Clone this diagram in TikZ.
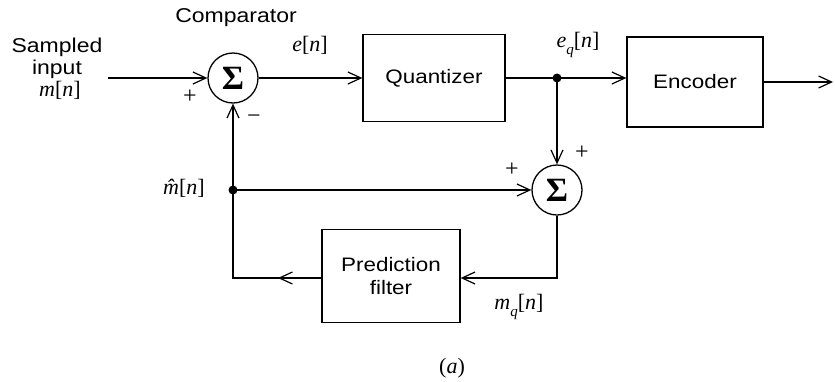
\documentclass[tikz,border=0pt]{standalone}
\usepackage{fontspec}
\setmainfont[FakeStretch=1.15]{Liberation Sans}
\newfontfamily\mfont{Liberation Serif}
\newcommand{\vi}[1]{{\mfont\itshape #1}}
\newcommand{\vb}[1]{{\mfont #1}}
\newcommand{\sub}[1]{\raisebox{-0.35em}{\fontsize{15}{15}\selectfont\mfont\itshape #1}}
\usetikzlibrary{arrows.meta,calc}
\begin{document}
\begin{tikzpicture}[x=1pt,y=-1pt,
  line width=1.3pt,
  >={Straight Barb[length=13pt,width=12pt,line width=1.2pt]},
  sumnode/.style={draw,circle,minimum size=50pt,inner sep=0pt,font=\fontsize{34}{34}\selectfont\mfont\bfseries},
  blk/.style={draw,rectangle,inner sep=2pt,font=\fontsize{19.5}{23}\selectfont,align=center},
  lbl/.style={font=\fontsize{20}{22}\selectfont,align=center},
  mlbl/.style={font=\fontsize{22}{24}\selectfont,inner sep=1pt},
  sgn/.style={font=\fontsize{24}{24}\selectfont\mfont,inner sep=0pt},
  dot/.style={circle,fill,inner sep=0pt,minimum size=9pt}]
\useasboundingbox (0,0) rectangle (835,381);
% nodes
\node[sumnode] (s1) at (233,78) {Σ};
\node[blk,minimum width=142pt,minimum height=87pt] (q) at (434,78) {Quantizer};
\node[dot] (j) at (557,78) {};
\node[blk,minimum width=136pt,minimum height=90pt] (enc) at (695,82) {Encoder};
\node[sumnode] (s2) at (557,190) {Σ};
\node[dot] (mh) at (233,190) {};
\node[blk,minimum width=138pt,minimum height=93pt] (f) at (391,276) {Prediction\\filter};
\coordinate (in) at (108,78);
\coordinate (out) at (833,82);
\coordinate (br) at (557,278);
\coordinate (bl) at (233,278);
\coordinate (mid) at (278,278);
% labels
\node[lbl] (comp) at (236,18) {Comparator};
\node[lbl] (sin1) at (57,47) {Sampled};
\node[lbl] (sin2) at (57,69) {input};
\node[mlbl] (sin3) at (60,90) {\vi{m}\vb{[}\vi{n}\vb{]}};
\node[sgn] (p1) at (190,97) {+};
\node[sgn] (m1) at (254,119) {−};
\node[mlbl] (en) at (310,45) {\vi{e}\vb{[}\vi{n}\vb{]}};
\node[mlbl] (eqn) at (578,45) {\vi{e}\sub{q}\vb{[}\vi{n}\vb{]}};
\node[sgn] (p2) at (582,153) {+};
\node[sgn] (p3) at (512,170) {+};
\node[mlbl] (mhl) at (184,188) {\vi{\^{m}}\vb{[}\vi{n}\vb{]}};
\node[mlbl] (mql) at (519,307) {\vi{m}\sub{q}\vb{[}\vi{n}\vb{]}};
\node[mlbl] (cap) at (452,368) {\vb{(}\vi{a}\vb{)}};
% connectors
\draw[->] (in) -- (s1.west);
\draw[->] (s1.east) -- (q.west);
\draw (q.east) -- (j.center);
\draw[->] (j.center) -- (j.center -| enc.west);
\draw[->] (enc.east |- out) -- (out);
\draw[->] (j.center) -- (s2.north);
\draw[->] (mh.center) -- (s2.west);
\draw[->] (s2.south) -- (br) -- (br -| f.east);
\draw[->] (f.west |- bl) -- (mid);
\draw[->] (f.west |- bl) -- (bl) -- (s1.south);
\end{tikzpicture}
\end{document}
